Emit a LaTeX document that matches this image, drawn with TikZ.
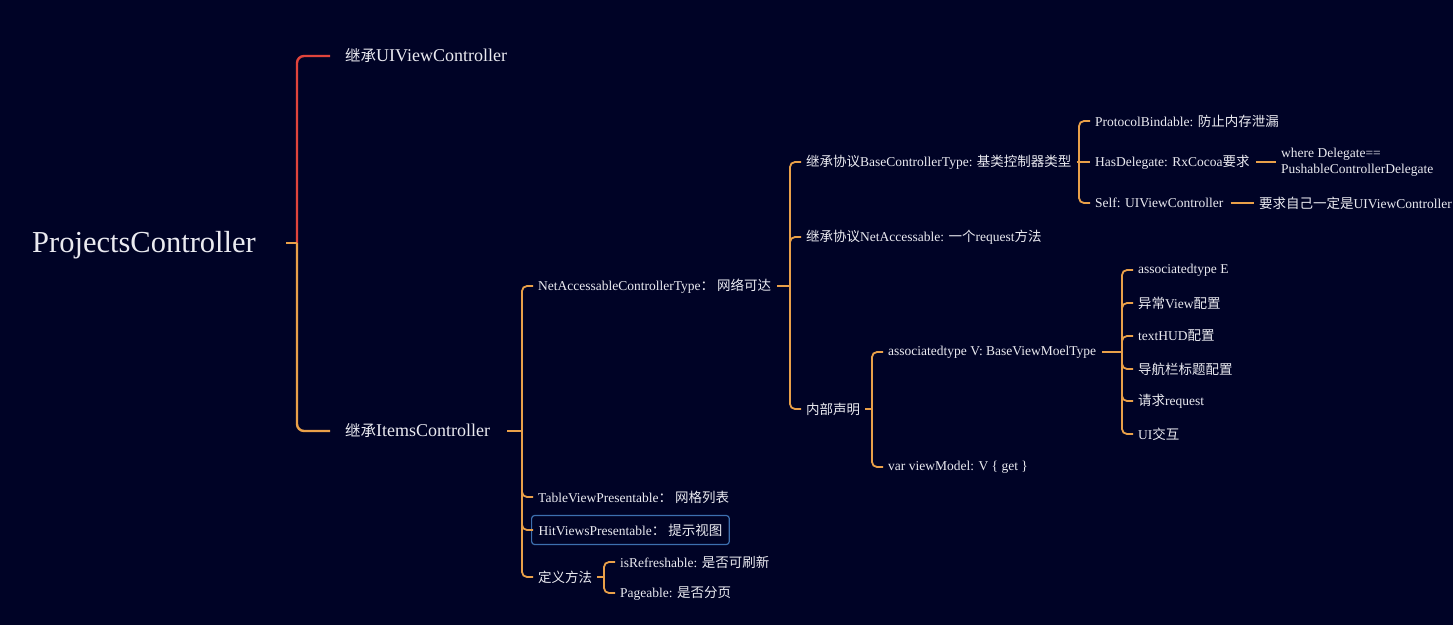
\documentclass[tikz,border=0pt]{standalone}
\usepackage{fontspec}
\setmainfont{Liberation Serif}
\newfontfamily\cjk{Noto Sans CJK SC}[Scale=1.0]
\newfontfamily\cjkL{Noto Sans CJK SC}[Scale=0.86]
\newcommand\zh[1]{{\cjk #1}}
\newcommand\zhL[1]{{\cjkL #1}}
\definecolor{bg}{HTML}{000326}
\definecolor{org}{HTML}{E9A049}
\definecolor{redl}{HTML}{E0443C}
\definecolor{txt}{HTML}{EAEAF0}
\definecolor{hl}{HTML}{3D6FAE}
\tikzset{
  lbl/.style={anchor=west, inner sep=0pt, text=txt, font=\fontsize{13.5}{16}\selectfont},
  lblone/.style={lbl, font=\fontsize{18}{20}\selectfont},
  lblroot/.style={lbl, font=\fontsize{30.5}{34}\selectfont},
  conn/.style={draw=org, line width=1.8pt, rounded corners=5pt},
  connroot/.style={conn, line width=2.4pt, rounded corners=7pt},
  connred/.style={connroot, draw=redl},
  hlbox/.style={lbl, draw=hl, line width=1.2pt, rounded corners=3pt, inner xsep=7pt, minimum height=29pt}
}
\begin{document}
\begin{tikzpicture}[x=1pt,y=-1pt]
\fill[bg] (0,0) rectangle (1453,625);
\useasboundingbox (0,0) rectangle (1453,625);

% nodes
\node[lblroot] (root) at (32,245) {ProjectsController};
\node[lblone] (uivc) at (345,56) {\zhL{继承}UIViewController};
\node[lblone] (items) at (345,431) {\zhL{继承}ItemsController};

\node[lbl] (na) at (538,286) {NetAccessableControllerType\zh{： 网络可达}};
\node[lbl] (tv) at (538,497) {TableViewPresentable\zh{： 网格列表}};
\node[hlbox] (hv) at (531,530) {HitViewsPresentable\zh{： 提示视图}};
\node[lbl] (dm) at (538,577) {\zh{定义方法}};
\node[lbl] (ir) at (620,562) {isRefreshable: \zh{是否可刷新}};
\node[lbl] (pg) at (620,593) {Pageable: \zh{是否分页}};

\node[lbl] (bc) at (806,162) {\zh{继承协议}BaseControllerType: \zh{基类控制器类型}};
\node[lbl] (nac) at (806,237) {\zh{继承协议}NetAccessable: \zh{一个}request\zh{方法}};
\node[lbl] (nb) at (806,409) {\zh{内部声明}};

\node[lbl] (pb) at (1095,121) {ProtocolBindable: \zh{防止内存泄漏}};
\node[lbl] (hd) at (1095,162) {HasDelegate: RxCocoa\zh{要求}};
\node[lbl] (self) at (1095,203) {Self: UIViewController};
\node[lbl, align=left] (wd) at (1281,162) {where Delegate==\\PushableControllerDelegate};
\node[lbl] (req) at (1259,203) {\zh{要求自己一定是}UIViewController};

\node[lbl] (av) at (888,352) {associatedtype V: BaseViewMoelType};
\node[lbl] (vm) at (888,467) {var viewModel: V \{ get \}};

\node[lbl] (c1) at (1138,270) {associatedtype E};
\node[lbl] (c2) at (1138,303) {\zh{异常}View\zh{配置}};
\node[lbl] (c3) at (1138,336) {textHUD\zh{配置}};
\node[lbl] (c4) at (1138,369) {\zh{导航栏标题配置}};
\node[lbl] (c5) at (1138,401) {\zh{请求}request};
\node[lbl] (c6) at (1138,434) {UI\zh{交互}};

% bars
\coordinate (b0) at (297,243);
\coordinate (b1) at (522,431);
\coordinate (b2) at (604,577);
\coordinate (b3) at (790,286);
\coordinate (b4) at (1079,162);
\coordinate (b5) at (872,409);
\coordinate (b6) at (1122,352);

% root connectors
\draw[connred] (b0) |- ([xshift=-15pt]uivc.west);
\draw[connroot] (b0) |- ([xshift=-15pt]items.west);
\draw[connroot] ([xshift=30pt]root.east |- b0) -- (b0);

% items
\draw[conn] ([xshift=17pt]items.east) -- (b1);
\draw[conn] (b1) |- ([xshift=-5pt]na.west);
\draw[conn] (b1) |- ([xshift=-5pt]tv.west);
\draw[conn] (b1) |- ([xshift=2pt]hv.west);
\draw[conn] (b1) |- ([xshift=-5pt]dm.west);

% define methods
\draw[conn] ([xshift=5pt]dm.east) -- (b2);
\draw[conn] (b2) |- ([xshift=-5pt]ir.west);
\draw[conn] (b2) |- ([xshift=-5pt]pg.west);

% netaccessable
\draw[conn] ([xshift=6pt]na.east) -- (b3);
\draw[conn] (b3) |- ([xshift=-5pt]bc.west);
\draw[conn] (b3) |- ([xshift=-5pt]nac.west);
\draw[conn] (b3) |- ([xshift=-5pt]nb.west);

% base controller
\draw[conn] ([xshift=5pt]bc.east) -- (b4);
\draw[conn] (b4) |- ([xshift=-5pt]pb.west);
\draw[conn] (b4) -- ([xshift=-5pt]hd.west);
\draw[conn] (b4) |- ([xshift=-5pt]self.west);
\draw[conn] ([xshift=6pt]hd.east) -- ([xshift=-5pt]wd.west);
\draw[conn] ([xshift=7pt]self.east) -- ([xshift=-5pt]req.west);

% inner declaration
\draw[conn] ([xshift=5pt]nb.east) -- (b5);
\draw[conn] (b5) |- ([xshift=-5pt]av.west);
\draw[conn] (b5) |- ([xshift=-5pt]vm.west);

% associated type
\draw[conn] ([xshift=6pt]av.east) -- (b6);
\foreach \c in {c1,c2,c3,c4,c5,c6}
  \draw[conn] (b6) |- ([xshift=-5pt]\c.west);
\end{tikzpicture}
\end{document}
